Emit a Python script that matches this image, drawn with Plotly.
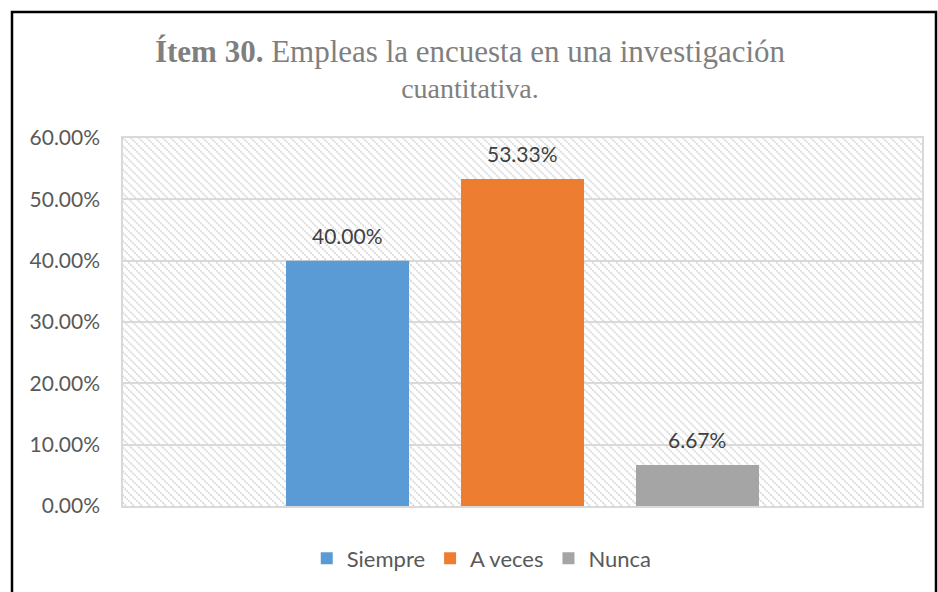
import base64
import plotly.graph_objects as go

# Survey responses for item 30
categorias = ["Siempre", "A veces", "Nunca"]
porcentajes = [40.00, 53.33, 6.67]
colores = ["#5B9BD5", "#ED7D31", "#A5A5A5"]
ticks_y = [0, 10, 20, 30, 40, 50, 60]
ticks_txt = ["0.00%", "10.00%", "20.00%", "30.00%", "40.00%", "50.00%", "60.00%"]

W, H = 938, 592
ML, MR, MT, MB = 123, 16, 138, 83
PW, PH = W - ML - MR, H - MT - MB
BARGAP = 0.343

# Diagonal hatch used as the plot-area fill
svg = f"""<svg xmlns='http://www.w3.org/2000/svg' width='{PW}' height='{PH}'>
<defs><pattern id='h' patternUnits='userSpaceOnUse' width='8' height='8'>
<path d='M-2,-2 L10,10 M-2,6 L2,10 M6,-2 L10,2' stroke='#d2d2d2' stroke-width='1.7' stroke-dasharray='1.6 1'/>
</pattern></defs>
<rect width='100%' height='100%' fill='url(#h)'/></svg>"""
hatch = "data:image/svg+xml;base64," + base64.b64encode(svg.encode()).decode()

fig = go.Figure()
for cat, val, col in zip(categorias, porcentajes, colores):
    fig.add_trace(go.Bar(
        x=[""], y=[val], name=cat,
        marker=dict(color=col, line=dict(width=0)),
        hoverinfo="skip",
    ))

# Value labels above each bar of the group
slot = (1 - BARGAP) / len(categorias)
etiquetas = []
for i, val in enumerate(porcentajes):
    etiquetas.append(dict(
        x=(i - (len(categorias) - 1) / 2) * slot, xref="x",
        y=val, yref="y", yanchor="bottom", yshift=11,
        text=f"{val:.2f}%", showarrow=False,
        font=dict(family="Lato", size=21, color="#404040"),
    ))

fig.update_layout(
    width=W, height=H,
    margin=dict(l=ML, r=MR, t=MT, b=MB),
    paper_bgcolor="white", plot_bgcolor="white",
    barmode="group", bargap=BARGAP, bargroupgap=0.297,
    title=dict(
        text=("<span style='font-size:31px'><b>Ítem 30.</b> Empleas la encuesta "
              "en una investigación</span><br>cuantitativa."),
        font=dict(family="Liberation Serif", size=28, color="#7f7f7f"),
        x=470 / W, xanchor="center", xref="container",
        y=1 - 62 / H, yanchor="top", yref="container",
    ),
    xaxis=dict(showticklabels=False, showgrid=False, zeroline=False,
               showline=True, linecolor="#d9d9d9", linewidth=1.5, mirror=True),
    yaxis=dict(range=[0, 60], tickvals=ticks_y, ticktext=ticks_txt,
               showgrid=True, gridcolor="#d9d9d9", gridwidth=1.5,
               zeroline=False, showline=True, linecolor="#d9d9d9",
               linewidth=1.5, mirror=True,
               ticks="outside", ticklen=17, tickcolor="rgba(0,0,0,0)",
               tickfont=dict(family="Lato", size=21, color="#595959")),
    legend=dict(orientation="h", x=0.449, xanchor="center",
                y=-(562 - (H - MB)) / PH, yanchor="middle",
                font=dict(family="Lato", size=22, color="#595959"),
                itemclick=False, itemdoubleclick=False),
    annotations=etiquetas,
    images=[dict(source=hatch, xref="paper", yref="paper", x=0, y=1,
                 sizex=1, sizey=1, xanchor="left", yanchor="top",
                 sizing="stretch", layer="below")],
    shapes=[dict(type="rect", xref="paper", yref="paper",
                 x0=(12 - ML) / PW, x1=(936 - ML) / PW,
                 y0=(H - MB - 600) / PH, y1=(H - MB - 11) / PH,
                 line=dict(color="#000000", width=2.5), fillcolor="rgba(0,0,0,0)",
                 layer="above")],
)

fig.write_html("out.html")
